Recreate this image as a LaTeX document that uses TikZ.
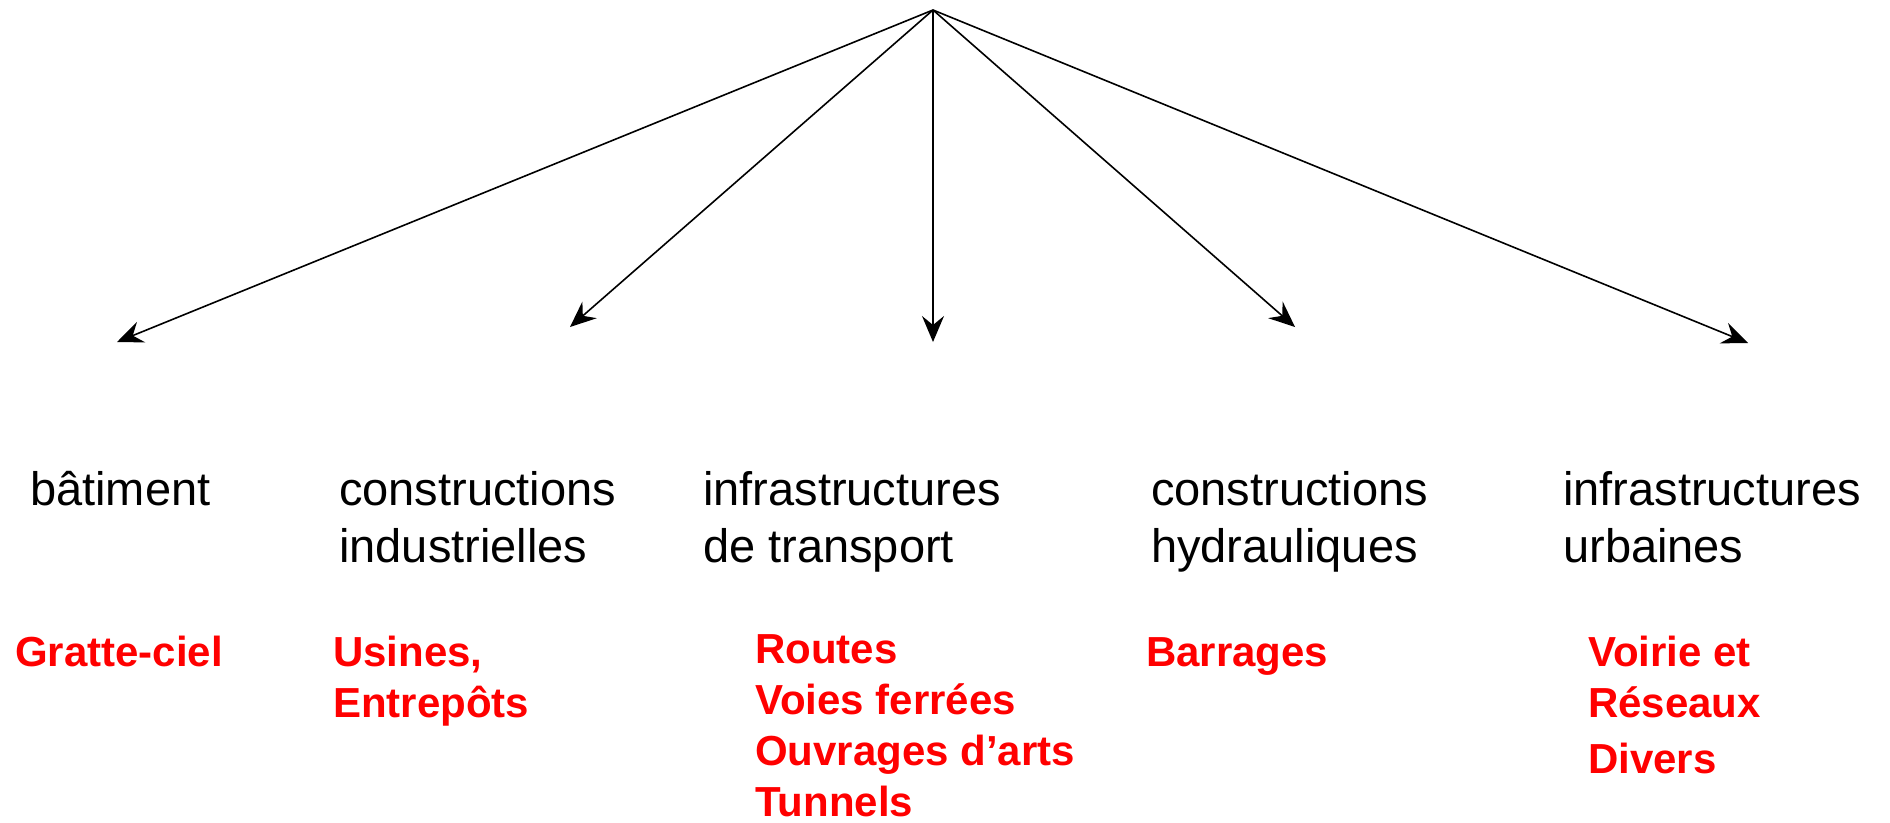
\documentclass[tikz,border=0pt]{standalone}
\usepackage{fontspec}
\setmainfont{Liberation Sans}
\usepackage{tikz}
\usetikzlibrary{arrows.meta}
\usetikzlibrary{positioning}
\tikzset{
    fleche/.style={draw=black, line width=1.6pt,
        -{Stealth[length=26pt, width=22pt, inset=9pt]}},
    domaine/.style={anchor=base west, inner sep=0pt, align=left,
        font=\fontsize{47}{57}\selectfont},
    ouvrage/.style={anchor=base west, inner sep=0pt, align=left, text=red,
        font=\fontsize{42}{51}\selectfont\bfseries},
}
\begin{document}
\begin{tikzpicture}[x=1pt,y=-1pt]
\useasboundingbox (0,0) rectangle (1890,822);

\coordinate (sommet) at (933,10);
\coordinate (fbat) at (117,342);
\coordinate (find) at (570,327);
\coordinate (ftra) at (933,342);
\coordinate (fhyd) at (1295,327);
\coordinate (furb) at (1748,343);

\draw [fleche] (sommet) -- (fbat);
\draw [fleche] (sommet) -- (find);
\draw [fleche] (sommet) -- (ftra);
\draw [fleche] (sommet) -- (fhyd);
\draw [fleche] (sommet) -- (furb);

% domaines (base = derniere ligne)
\node [domaine] at (30,505) (bat) {b\^atiment};
\node [domaine] at (339,562) (ind) {constructions\\industrielles};
\node [domaine] at (703,562) (tra) {infrastructures\\de transport};
\node [domaine] at (1151,562) (hyd) {constructions\\hydrauliques};
\node [domaine] at (1563,562) (urb) {infrastructures\\urbaines};

% ouvrages
\node [ouvrage] at (15,666) (gratte) {Gratte-ciel};
\node [ouvrage] at (333,717) (usines) {Usines,\\Entrep\^ots};
\node [ouvrage] at (755,816) (routes) {Routes\\Voies ferr\'ees\\Ouvrages d’arts\\Tunnels};
\node [ouvrage] at (1146,666) (barrages) {Barrages};
\node [ouvrage] at (1588,773) (voirie) {Voirie et\\R\'eseaux\\[5pt]Divers};

\end{tikzpicture}
\end{document}
